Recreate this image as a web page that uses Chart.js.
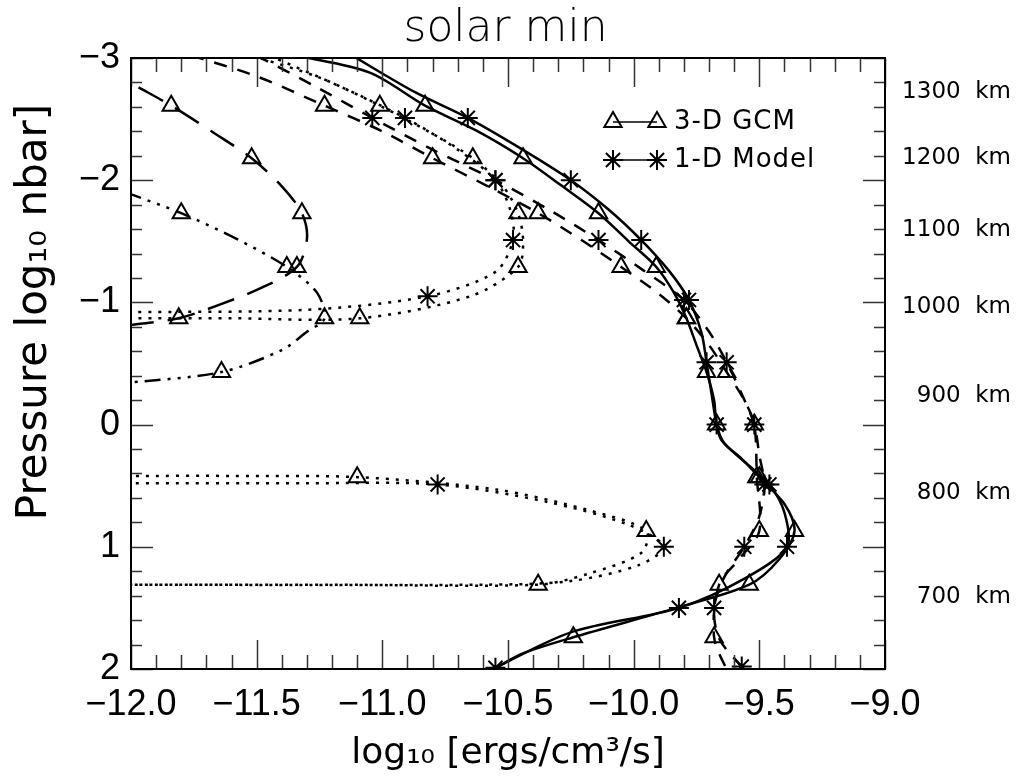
<!DOCTYPE html>
<html>
<head>
<meta charset="utf-8">
<script src="https://cdn.jsdelivr.net/npm/chart.js@4.4.1/dist/chart.umd.min.js"></script>
<style>
  html, body { margin: 0; padding: 0; background: #fff; }
  #wrap { width: 1021px; height: 783px; }
</style>
</head>
<body>
<div id="wrap"><canvas id="grafik"></canvas></div>
<script>
// 1. Data: [log10 rate, log10 pressure]
const xTicks = [-12, -11.5, -11, -10.5, -10, -9.5, -9];
const yTicks = [-3, -2, -1, 0, 1, 2];
const kmLabels = ['1300  km', '1200  km', '1100  km', '1000  km', '900  km', '800  km', '700  km'];
const kmPressure = [-2.72, -2.18, -1.59, -0.96, -0.23, 0.56, 1.41];

// solid (total)
const solidGcm = [[-11.34,-3.02],[-11.05,-2.88],[-10.83,-2.61],[-10.62,-2.40],[-10.44,-2.18],[-10.29,-1.96],
  [-10.14,-1.73],[-10.02,-1.50],[-9.91,-1.29],[-9.84,-1.08],[-9.79,-0.87],[-9.75,-0.65],[-9.71,-0.43],
  [-9.68,-0.20],[-9.67,0.0],[-9.64,0.15],[-9.57,0.28],[-9.50,0.43],[-9.40,0.65],[-9.36,0.87],[-9.42,1.10],
  [-9.54,1.31],[-9.83,1.50],[-10.24,1.74],[-10.45,1.88],[-10.57,2.02]];
const solidGcmSym = [[-10.83,-2.61],[-10.44,-2.18],[-10.14,-1.73],[-9.91,-1.29],[-9.79,-0.87],[-9.71,-0.43],
  [-9.67,0.0],[-9.50,0.43],[-9.36,0.87],[-9.54,1.31],[-10.24,1.74]];
const solid1d = [[-11.12,-3.02],[-10.87,-2.72],[-10.66,-2.51],[-10.45,-2.26],[-10.25,-2.0],[-10.10,-1.76],
  [-9.97,-1.51],[-9.86,-1.26],[-9.78,-1.02],[-9.73,-0.75],[-9.71,-0.51],[-9.69,-0.25],[-9.67,0.0],
  [-9.65,0.13],[-9.55,0.32],[-9.46,0.49],[-9.40,0.72],[-9.39,1.0],[-9.55,1.25],[-9.82,1.50],[-10.25,1.70],
  [-10.57,2.01]];
const solid1dSym = [[-10.66,-2.51],[-10.25,-2.0],[-9.97,-1.51],[-9.78,-1.02],[-9.71,-0.51],[-9.67,0.0],
  [-9.46,0.49],[-9.39,1.0],[-9.82,1.50],[-10.55,1.99]];

// dashed
const dashedGcm = [[-11.76,-3.02],[-11.50,-2.85],[-11.23,-2.61],[-11.00,-2.40],[-10.80,-2.18],[-10.58,-1.95],
  [-10.38,-1.73],[-10.20,-1.50],[-10.05,-1.29],[-9.90,-1.07],[-9.79,-0.87],[-9.70,-0.65],[-9.63,-0.43],
  [-9.56,-0.20],[-9.52,0.0],[-9.51,0.43],[-9.50,0.87],[-9.58,1.10],[-9.66,1.31],[-9.68,1.74],[-9.62,2.05]];
const dashedGcmSym = [[-11.23,-2.61],[-10.80,-2.18],[-10.38,-1.73],[-10.05,-1.29],[-9.79,-0.87],[-9.63,-0.43],
  [-9.52,0.0],[-9.51,0.43],[-9.50,0.87],[-9.66,1.31],[-9.68,1.74]];
const dashed1d = [[-11.50,-3.02],[-11.26,-2.76],[-11.04,-2.51],[-10.80,-2.25],[-10.55,-2.0],[-10.33,-1.75],
  [-10.14,-1.51],[-9.96,-1.26],[-9.80,-1.02],[-9.70,-0.76],[-9.63,-0.51],[-9.57,-0.25],[-9.52,0.0],
  [-9.50,0.25],[-9.48,0.49],[-9.50,0.75],[-9.56,1.0],[-9.64,1.25],[-9.68,1.50],[-9.66,1.75],[-9.57,1.98],
  [-9.52,2.08]];
const dashed1dSym = [[-11.04,-2.51],[-10.55,-2.0],[-10.14,-1.51],[-9.80,-1.02],[-9.63,-0.51],[-9.52,0.0],
  [-9.48,0.49],[-9.56,1.0],[-9.68,1.50],[-9.57,1.98]];

// dotted
const dottedGcmUp = [[-11.52,-3.02],[-11.25,-2.84],[-11.01,-2.61],[-10.80,-2.38],[-10.64,-2.18],[-10.52,-1.95],
  [-10.46,-1.73],[-10.44,-1.50],[-10.46,-1.29],[-10.65,-1.05],[-11.09,-0.87],[-11.6,-0.87],[-12.02,-0.87]];
const dottedGcmLow = [[-12.02,0.42],[-11.6,0.42],[-11.10,0.43],[-10.55,0.53],[-10.18,0.70],[-9.95,0.87],
  [-9.97,1.05],[-10.18,1.22],[-10.38,1.31],[-11.2,1.31],[-12.02,1.31]];
const dottedGcmSym = [[-11.01,-2.61],[-10.64,-2.18],[-10.46,-1.73],[-10.46,-1.29],[-11.09,-0.87],
  [-11.10,0.43],[-9.95,0.87],[-10.38,1.31]];
const dotted1dUp = [[-11.45,-3.02],[-11.15,-2.75],[-10.91,-2.51],[-10.70,-2.25],[-10.55,-2.0],[-10.49,-1.75],
  [-10.48,-1.51],[-10.55,-1.25],[-10.82,-1.05],[-11.3,-0.94],[-12.02,-0.92]];
const dotted1dLow = [[-12.02,0.48],[-11.3,0.48],[-10.78,0.49],[-10.35,0.63],[-10.02,0.82],[-9.88,1.0],
  [-9.98,1.15],[-10.25,1.28],[-10.6,1.31],[-12.02,1.31]];
const dotted1dSym = [[-10.91,-2.51],[-10.55,-2.0],[-10.48,-1.51],[-10.82,-1.05],[-10.78,0.49],[-9.88,1.0]];

// long dash and dash-dot-dot-dot (GCM only)
const longDash = [[-11.97,-2.76],[-11.84,-2.61],[-11.68,-2.40],[-11.52,-2.18],[-11.40,-1.95],[-11.32,-1.73],
  [-11.30,-1.52],[-11.34,-1.29],[-11.48,-1.12],[-11.65,-0.98],[-11.81,-0.87],[-12.02,-0.81]];
const longDashSym = [[-11.84,-2.61],[-11.52,-2.18],[-11.32,-1.73],[-11.34,-1.29],[-11.81,-0.87]];
const dashDot = [[-12.02,-1.90],[-11.80,-1.73],[-11.58,-1.52],[-11.38,-1.29],[-11.26,-1.08],[-11.23,-0.87],
  [-11.30,-0.76],[-11.40,-0.61],[-11.64,-0.43],[-12.02,-0.34]];
const dashDotSym = [[-11.80,-1.73],[-11.38,-1.29],[-11.23,-0.87],[-11.64,-0.43]];

// 2. Helpers
function toPts(arr) { return arr.map(d => ({ x: d[0], y: d[1] })); }

function garis(data, dash) {
  return { type: 'line', data: toPts(data), borderColor: '#000', borderWidth: 2.5, borderDash: dash,
           borderCapStyle: 'butt', pointRadius: 0, tension: 0.3, fill: false, order: 2 };
}
function simbol(data, style) {
  return { type: 'line', data: toPts(data), showLine: false, pointStyle: style, pointRadius: 10,
           pointBorderWidth: 2, pointBorderColor: '#000', pointBackgroundColor: 'rgba(0,0,0,0)', order: 1 };
}

const DASH = [13, 11];
const DOT = [3, 7];
const LONG = [28, 14];
const DDD = [16, 7, 3, 7, 3, 7, 3, 7];

// 3. Frame, inward ticks, legend and y title
const bingkai = {
  id: 'bingkai',
  afterDatasetsDraw(chart) {
    const { ctx, chartArea: a, scales: { x, y } } = chart;
    ctx.save();
    ctx.strokeStyle = '#333';
    ctx.lineWidth = 1.5;
    ctx.beginPath();
    for (let i = 0; i <= 30; i++) {
      const px = Math.round(x.getPixelForValue(-12 + i * 0.1)) + 0.5;
      const len = i % 5 === 0 ? 29 : 14;
      ctx.moveTo(px, a.bottom); ctx.lineTo(px, a.bottom - len);
      ctx.moveTo(px, a.top); ctx.lineTo(px, a.top + len);
    }
    for (let i = 0; i <= 25; i++) {
      const py = Math.round(y.getPixelForValue(-3 + i * 0.2)) + 0.5;
      const len = i % 5 === 0 ? 22 : 11;
      ctx.moveTo(a.left, py); ctx.lineTo(a.left + len, py);
      ctx.moveTo(a.right, py); ctx.lineTo(a.right - len, py);
    }
    ctx.stroke();
    ctx.strokeStyle = '#000';
    ctx.lineWidth = 2;
    ctx.strokeRect(a.left, a.top, a.right - a.left, a.bottom - a.top);

    // legend
    const rows = [['triangle', '3-D GCM', 122], ['star', '1-D Model', 160]];
    ctx.fillStyle = 'rgba(0,0,0,0)';
    rows.forEach(r => {
      ctx.lineWidth = 1.5;
      ctx.beginPath(); ctx.moveTo(613, r[2]); ctx.lineTo(657, r[2]); ctx.stroke();
      ctx.lineWidth = 2;
      Chart.helpers.drawPoint(ctx, { pointStyle: r[0], radius: 10, rotation: 0, borderWidth: 2 }, 613, r[2]);
      Chart.helpers.drawPoint(ctx, { pointStyle: r[0], radius: 10, rotation: 0, borderWidth: 2 }, 657, r[2]);
    });
    ctx.fillStyle = '#000';
    ctx.font = '26px "DejaVu Sans"';
    ctx.letterSpacing = '1px';
    ctx.textBaseline = 'middle';
    ctx.textAlign = 'left';
    rows.forEach(r => ctx.fillText(r[1], 674, r[2]));
    ctx.letterSpacing = '0px';

    // y title
    ctx.translate(35, 312);
    ctx.rotate(-Math.PI / 2);
    ctx.textAlign = 'center';
    ctx.font = '42px "DejaVu Sans"';
    ctx.fillText('Pressure log\u2081\u2080 nbar]', 0, 0);
    ctx.restore();
  }
};

// 4. Chart
const tickFont = { family: '"Liberation Sans", Arial, sans-serif', size: 36 };
const minus = v => (v < 0 ? '\u2212' : '') + Math.abs(v);

new Chart(document.getElementById('grafik'), {
  type: 'line',
  data: {
    datasets: [
      garis(solidGcm, []), garis(solid1d, []),
      garis(dashedGcm, DASH), garis(dashed1d, DASH),
      garis(dottedGcmUp, DOT), garis(dottedGcmLow, DOT),
      garis(dotted1dUp, DOT), garis(dotted1dLow, DOT),
      garis(longDash, LONG), garis(dashDot, DDD),
      simbol(solidGcmSym, 'triangle'), simbol(dashedGcmSym, 'triangle'),
      simbol(dottedGcmSym, 'triangle'), simbol(longDashSym, 'triangle'),
      simbol(dashDotSym, 'triangle'),
      simbol(solid1dSym, 'star'), simbol(dashed1dSym, 'star'), simbol(dotted1dSym, 'star')
    ]
  },
  options: {
    responsive: true,
    maintainAspectRatio: false,
    animation: false,
    events: [],
    layout: { padding: { left: 0, right: 10, top: 0, bottom: 0 } },
    plugins: {
      legend: { display: false },
      tooltip: { enabled: false },
      title: {
        display: true,
        text: 'solar min',
        color: '#000',
        font: { family: '"DejaVu Sans"', size: 44, weight: 200, lineHeight: 1.2 },
        padding: { top: 3, bottom: 2.2 }
      }
    },
    scales: {
      x: {
        type: 'linear', min: -12, max: -9,
        grid: { display: false, drawTicks: false },
        border: { display: false },
        afterBuildTicks: s => { s.ticks = xTicks.map(v => ({ value: v })); },
        afterFit: s => { s.height = 114; },
        ticks: {
          color: '#000', font: tickFont, padding: 14, autoSkip: false, maxRotation: 0,
          callback: v => (v < 0 ? '\u2212' : '') + Math.abs(v).toFixed(1)
        },
        title: {
          display: true, text: 'log\u2081\u2080 [ergs/cm\u00b3/s]', color: '#000',
          font: { family: '"DejaVu Sans"', size: 36 }, padding: { top: 0, bottom: 8 }
        }
      },
      y: {
        type: 'linear', min: -3, max: 2, reverse: true,
        grid: { display: false, drawTicks: false },
        border: { display: false },
        afterBuildTicks: s => { s.ticks = yTicks.map(v => ({ value: v })); },
        afterFit: s => { s.width = 131; },
        ticks: { color: '#000', font: tickFont, padding: 11, autoSkip: false, callback: minus }
      },
      y2: {
        type: 'linear', position: 'right', min: -3, max: 2, reverse: true,
        grid: { display: false, drawTicks: false },
        border: { display: false },
        afterBuildTicks: s => { s.ticks = kmPressure.map(v => ({ value: v })); },
        afterFit: s => { s.width = 126; },
        ticks: {
          color: '#000', font: { family: '"DejaVu Sans"', size: 23 }, autoSkip: false,
          crossAlign: 'far', callback: (v, i) => kmLabels[i]
        }
      }
    }
  },
  plugins: [bingkai]
});
</script>
</body>
</html>
